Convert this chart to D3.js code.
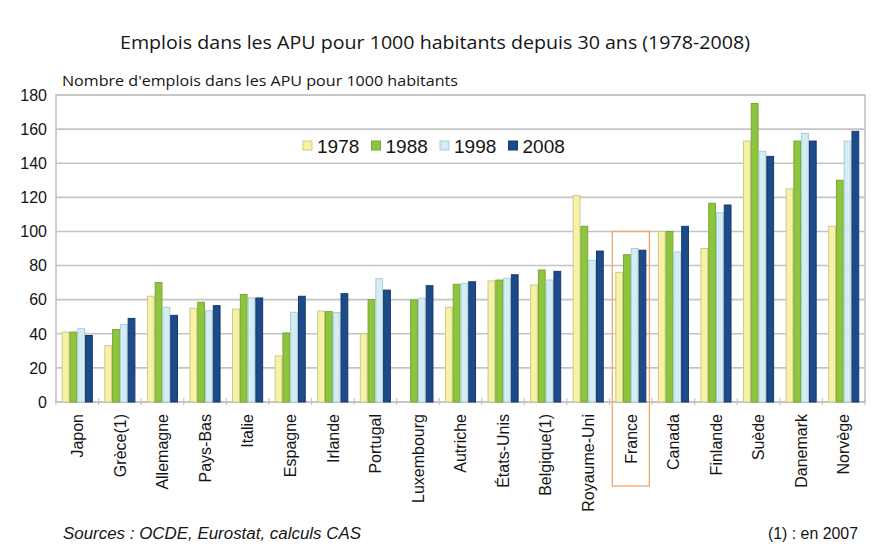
<!DOCTYPE html>
<html>
<head>
<meta charset="utf-8">
<script src="https://cdn.jsdelivr.net/npm/d3@7"></script>
<style>
  body { margin: 0; background: #fff; }
  text { font-family: "Liberation Sans", Arial, sans-serif; fill: #151515; }
</style>
</head>
<body>
<script>
// data
var countries = ["Japon", "Grèce(1)", "Allemagne", "Pays-Bas", "Italie", "Espagne", "Irlande",
  "Portugal", "Luxembourg", "Autriche", "États-Unis", "Belgique(1)", "Royaume-Uni", "France",
  "Canada", "Finlande", "Suède", "Danemark", "Norvège"];
var years = ["1978", "1988", "1998", "2008"];
var v1978 = [41, 33, 62, 55, 54.5, 27, 53.3, 40, null, 55.5, 71, 68.6, 121, 76, 100, 90, 153, 125, 103];
var v1988 = [41, 42.5, 70, 58.5, 63, 40.5, 53, 60, 59.8, 69, 71.5, 77.4, 103, 86.4, 100, 116.5, 175, 153, 130];
var v1998 = [43, 45.5, 55.5, 53.5, 61, 52.6, 52.4, 72.3, 60.8, 69.6, 72.5, 71.5, 83, 90, 88, 111, 147, 157.5, 153];
var v2008 = [39, 49, 50.8, 56.5, 61, 62, 63.5, 65.6, 68.2, 70.5, 74.6, 76.6, 88.5, 89, 103, 115.5, 144, 153, 158.7];
var yTicks = [0, 20, 40, 60, 80, 100, 120, 140, 160, 180];
var series = [v1978, v1988, v1998, v2008];

var fills = ["#f6f2a6", "#8fc43e", "#d4edf4", "#1d4a88"];
var strokes = ["#cfc989", "#78a832", "#a9ccd8", "#163a6c"];

var W = 885, H = 555;
var svg = d3.select("body").append("svg").attr("width", W).attr("height", H);

var plotLeft = 56, plotRight = 865, plotTop = 95, plotBottom = 402;

var x = d3.scaleBand().domain(countries).range([plotLeft, plotRight])
  .paddingInner(0.27).paddingOuter(0.135);
var xi = d3.scaleBand().domain(years).range([0, x.bandwidth()]);
var y = d3.scaleLinear().domain([0, 180]).range([plotBottom, plotTop]);

//titles
svg.append("text").attr("x", 120).attr("y", 49)
  .attr("textLength", 630).attr("lengthAdjust", "spacingAndGlyphs")
  .style("font-family", "'Open Sans', sans-serif").style("font-size", "19px")
  .text("Emplois dans les APU pour 1000 habitants depuis 30 ans (1978-2008)");
svg.append("text").attr("x", 62).attr("y", 86)
  .attr("textLength", 396).attr("lengthAdjust", "spacingAndGlyphs")
  .style("font-family", "'Open Sans', sans-serif").style("font-size", "15px")
  .text("Nombre d'emplois dans les APU pour 1000 habitants");

//grid
svg.append("g").selectAll("line").data(yTicks).enter().append("line")
  .attr("x1", plotLeft).attr("x2", plotRight)
  .attr("y1", function(d){ return y(d); }).attr("y2", function(d){ return y(d); })
  .attr("stroke", "#c4c4c4").attr("stroke-width", 1.6);

svg.append("rect").attr("x", plotLeft).attr("y", plotTop)
  .attr("width", plotRight - plotLeft).attr("height", plotBottom - plotTop)
  .attr("fill", "none").attr("stroke", "#c4c4c4").attr("stroke-width", 1.6);

//y labels
svg.append("g").selectAll("text").data(yTicks).enter().append("text")
  .attr("x", 47).attr("y", function(d){ return y(d); }).attr("dy", "0.36em")
  .attr("text-anchor", "end").style("font-size", "16px")
  .text(function(d){ return d; });

//x ticks between groups
var step = x.step();
svg.append("g").selectAll("line").data(d3.range(countries.length + 1)).enter().append("line")
  .attr("x1", function(i){ return plotLeft + i * step; })
  .attr("x2", function(i){ return plotLeft + i * step; })
  .attr("y1", plotBottom - 4).attr("y2", plotBottom + 3)
  .attr("stroke", "#c4c4c4").attr("stroke-width", 1.2);

//bars
var groups = svg.append("g").selectAll("g").data(countries).enter().append("g")
  .attr("transform", function(d){ return "translate(" + x(d) + ",0)"; });

groups.selectAll("rect")
  .data(function(d, i){
    return years.map(function(yr, k){ return { year: yr, k: k, value: series[k][i] }; })
      .filter(function(e){ return e.value != null; });
  })
  .enter().append("rect")
  .attr("x", function(d){ return xi(d.year) + 0.5; })
  .attr("width", xi.bandwidth() - 1)
  .attr("y", function(d){ return y(d.value); })
  .attr("height", function(d){ return plotBottom - y(d.value); })
  .attr("fill", function(d){ return fills[d.k]; })
  .attr("stroke", function(d){ return strokes[d.k]; })
  .attr("stroke-width", 1);

//x labels
svg.append("g").selectAll("text").data(countries).enter().append("text")
  .attr("transform", function(d){
    return "translate(" + (x(d) + x.bandwidth() / 2) + ",414) rotate(-90)";
  })
  .attr("dy", "0.36em").attr("text-anchor", "end").style("font-size", "16px")
  .text(function(d){ return d; });

//France highlight
var fx = x("France");
svg.append("rect")
  .attr("x", fx - 3).attr("y", y(100))
  .attr("width", x.bandwidth() + 6).attr("height", 486 - y(100))
  .attr("fill", "none").attr("stroke", "#f0a86a").attr("stroke-width", 1.3);

//legend
var legend = svg.append("g").attr("transform", "translate(294,131)");
legend.append("rect").attr("width", 275).attr("height", 29).attr("fill", "#fff");
var items = legend.selectAll("g").data(years).enter().append("g")
  .attr("transform", function(d, i){ return "translate(" + (9 + i * 68.5) + ",0)"; });
items.append("rect").attr("x", 0).attr("y", 10).attr("width", 9).attr("height", 9)
  .attr("fill", function(d, i){ return fills[i]; })
  .attr("stroke", function(d, i){ return strokes[i]; });
items.append("text").attr("x", 14).attr("y", 22).style("font-size", "19px")
  .text(function(d){ return d; });

//footer
svg.append("text").attr("x", 63).attr("y", 539)
  .attr("textLength", 298).attr("lengthAdjust", "spacingAndGlyphs")
  .style("font-size", "16px").style("font-style", "italic")
  .text("Sources : OCDE, Eurostat, calculs CAS");
svg.append("text").attr("x", 768).attr("y", 539)
  .attr("textLength", 90).attr("lengthAdjust", "spacingAndGlyphs")
  .style("font-size", "16px")
  .text("(1) : en 2007");
</script>
</body>
</html>
